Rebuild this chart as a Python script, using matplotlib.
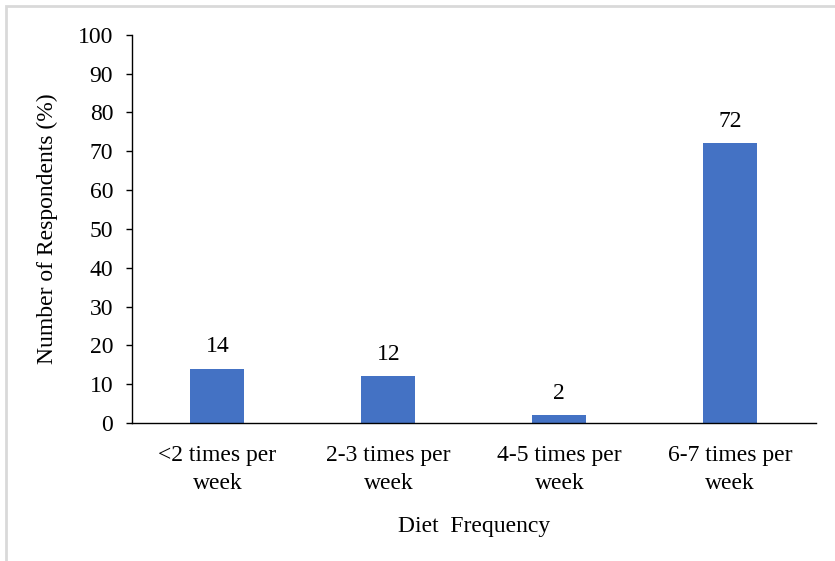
import matplotlib.pyplot as plt
from matplotlib.patches import Rectangle

categories = ["<2 times per\nweek", "2-3 times per\nweek", "4-5 times per\nweek", "6-7 times per\nweek"]
respondents_pct = [14, 12, 2, 72]
y_ticks = list(range(0, 101, 10))

plt.rcParams["font.family"] = ["Liberation Serif", "DejaVu Serif"]
FS = 17

fig = plt.figure(figsize=(8.35, 5.61), dpi=100)
ax = fig.add_axes([0.158, 0.246, 0.819, 0.692])

# light grey frame around the whole figure
fig.patches.append(Rectangle((6 / 835, -0.01), 1.0, 1 - 6 / 561 + 0.01,
                             transform=fig.transFigure, fill=False,
                             edgecolor="#d9d9d9", linewidth=2))

x = range(len(categories))
bars = ax.bar(x, respondents_pct, width=0.316, color="#4472C4")
for bar, value in zip(bars, respondents_pct):
    ax.text(bar.get_x() + bar.get_width() / 2, value + 3, str(value),
            ha="center", va="bottom", fontsize=FS)

ax.set_xlim(-0.5, 3.5)
ax.set_ylim(0, 100)
ax.set_yticks(y_ticks)
ax.set_xticks(list(x))
ax.set_xticklabels(categories, fontsize=FS, linespacing=1.4)
ax.tick_params(axis="x", length=0, pad=16)
ax.tick_params(axis="y", labelsize=FS, length=4.5, width=1, direction="out", pad=9)

for side in ("top", "right"):
    ax.spines[side].set_visible(False)
ax.spines["left"].set_linewidth(1)
ax.spines["bottom"].set_linewidth(1)

ax.set_ylabel("Number of Respondents (%)", fontsize=FS, labelpad=14)
ax.set_xlabel("Diet  Frequency", fontsize=FS, labelpad=16)

fig.savefig("out.png", dpi=100)
